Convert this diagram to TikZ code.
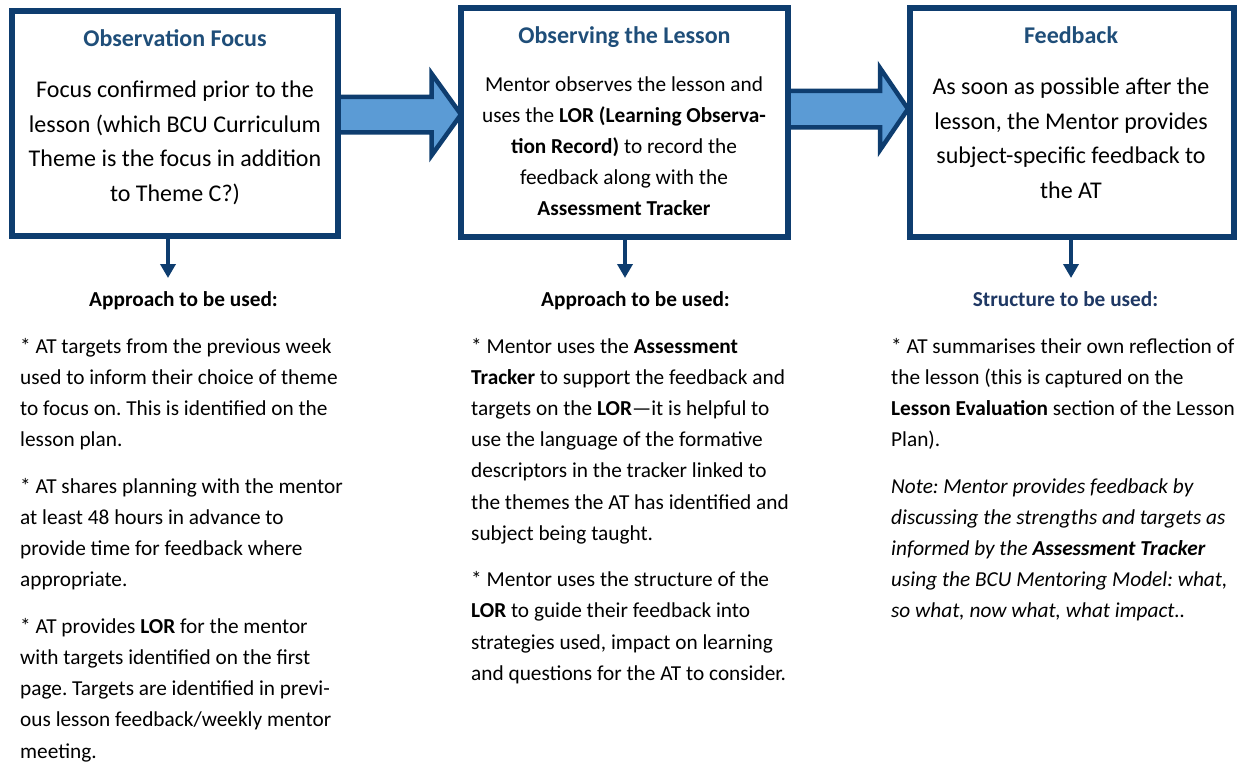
\documentclass[tikz,border=0pt]{standalone}
\usepackage{fontspec}
\setmainfont{Carlito}
\usetikzlibrary{arrows.meta,calc}
\definecolor{navy}{HTML}{0E3D6F}
\definecolor{titleblue}{HTML}{1F4E79}
\definecolor{headnavy}{HTML}{1F3864}
\definecolor{arrowfill}{HTML}{5B9BD5}
\pgfdeclarelayer{bg}
\pgfsetlayers{bg,main}
\frenchspacing
\begin{document}
\begin{tikzpicture}[x=1pt,y=-1pt,
  stagebox/.style={draw=navy, line width=6pt, fill=white, inner sep=0pt, outer sep=0pt},
  stagetitle/.style={anchor=base, inner sep=0pt, text=titleblue, font=\fontsize{24}{28}\selectfont\bfseries},
  bigbody/.style={anchor=base, inner sep=0pt, font=\fontsize{24}{34.7}\selectfont},
  smallbody/.style={anchor=base, inner sep=0pt, font=\fontsize{21.3}{31}\selectfont},
  listhead/.style={anchor=base, inner sep=0pt, font=\fontsize{21.3}{26}\selectfont\bfseries},
  listtext/.style={anchor=base west, inner sep=0pt, font=\fontsize{21.3}{31.2}\selectfont},
  blockarrow/.style={draw=navy, line width=4.5pt, fill=arrowfill, line join=miter, miter limit=10},
  downarrow/.style={draw=navy, line width=4pt, -{Triangle[width=15pt,length=14pt]}}
]
\useasboundingbox (0,0) rectangle (1245,762);

% stage boxes
\node[stagebox, minimum width=326pt, minimum height=225pt] (b1) at (175,123.5) {};
\node[stagebox, minimum width=327pt, minimum height=229pt] (b2) at (624.5,122.5) {};
\node[stagebox, minimum width=324pt, minimum height=229pt] (b3) at (1072,122.5) {};

% block arrows between the stages
\begin{pgfonlayer}{bg}
\draw[blockarrow] ($(b1.east |- 0,96.8)+(-4,0)$) -- (431.5,96.8) -- (431.5,73.5)
  -- (b2.west |- 0,114.5) -- (431.5,155.5) -- (431.5,132.5) -- ($(b1.east |- 0,132.5)+(-4,0)$) -- cycle;
\draw[blockarrow] ($(b2.east |- 0,90.8)+(-4,0)$) -- (880,90.8) -- (880,68)
  -- ($(b3.west |- 0,109)+(-2,0)$) -- (880,150) -- (880,127.5) -- ($(b2.east |- 0,127.5)+(-4,0)$) -- cycle;
\end{pgfonlayer}

% box titles and texts
\node[stagetitle] (t1) at (175,46.5) {Observation Focus};
\node[bigbody] (x1) at (175,97.5) {\parbox[t]{320pt}{\centering
  Focus confirmed prior to the\\
  lesson (which BCU Curriculum\\
  Theme is the focus in addition\\
  to Theme C?)}};

\node[stagetitle] (t2) at (624.5,43.7) {Observing the Lesson};
\node[smallbody] (x2) at (624,92) {\parbox[t]{320pt}{\centering
  Mentor observes the lesson and\\
  uses the \textbf{LOR (Learning Observa-}\\
  \textbf{tion Record)} to record the\\
  feedback along with the\\
  \textbf{Assessment Tracker}}};

\node[stagetitle] (t3) at (1071,43.7) {Feedback};
\node[bigbody] (x3) at (1071,94.5) {\parbox[t]{320pt}{\centering
  As soon as possible after the\\
  lesson, the Mentor provides\\
  subject-specific feedback to\\
  the AT}};

% small arrows down to the lists
\coordinate (d1) at (168,278);
\coordinate (d2) at (625,278);
\coordinate (d3) at (1071,278);
\draw[downarrow] (d1 |- b1.south) -- (d1);
\draw[downarrow] (d2 |- b2.south) -- (d2);
\draw[downarrow] (d3 |- b3.south) -- (d3);

% list headings
\node[listhead] (h1) at (183.5,306) {Approach to be used:};
\node[listhead] (h2) at (635.5,306) {Approach to be used:};
\node[listhead, text=headnavy] (h3) at (1065.5,306) {Structure to be used:};

% lists
\node[listtext] (l1) at (20,353) {\parbox[t]{400pt}{\raggedright
  * AT targets from the previous week\\
  used to inform their choice of theme\\
  to focus on. This is identified on the\\
  lesson plan.\\[15.3pt]
  * AT shares planning with the mentor\\
  at least 48 hours in advance to\\
  provide time for feedback where\\
  appropriate.\\[15.3pt]
  * AT provides \textbf{LOR} for the mentor\\
  with targets identified on the first\\
  page. Targets are identified in previ-\\
  ous lesson feedback/weekly mentor\\
  meeting.}};

\node[listtext] (l2) at (471,353) {\parbox[t]{400pt}{\raggedright
  * Mentor uses the \textbf{Assessment}\\
  \textbf{Tracker} to support the feedback and\\
  targets on the \textbf{LOR}—it is helpful to\\
  use the language of the formative\\
  descriptors in the tracker linked to\\
  the themes the AT has identified and\\
  subject being taught.\\[15.3pt]
  * Mentor uses the structure of the\\
  \textbf{LOR} to guide their feedback into\\
  strategies used, impact on learning\\
  and questions for the AT to consider.}};

\node[listtext] (l3) at (891,353) {\parbox[t]{400pt}{\raggedright
  * AT summarises their own reflection of\\
  the lesson (this is captured on the\\
  \textbf{Lesson Evaluation} section of the Lesson\\
  Plan).\\[15.3pt]
  \textit{Note: Mentor provides feedback by}\\
  \textit{discussing the strengths and targets as}\\
  \textit{informed by the \textbf{Assessment Tracker}}\\
  \textit{using the BCU Mentoring Model: what,}\\
  \textit{so what, now what, what impact..}}};
\end{tikzpicture}
\end{document}
